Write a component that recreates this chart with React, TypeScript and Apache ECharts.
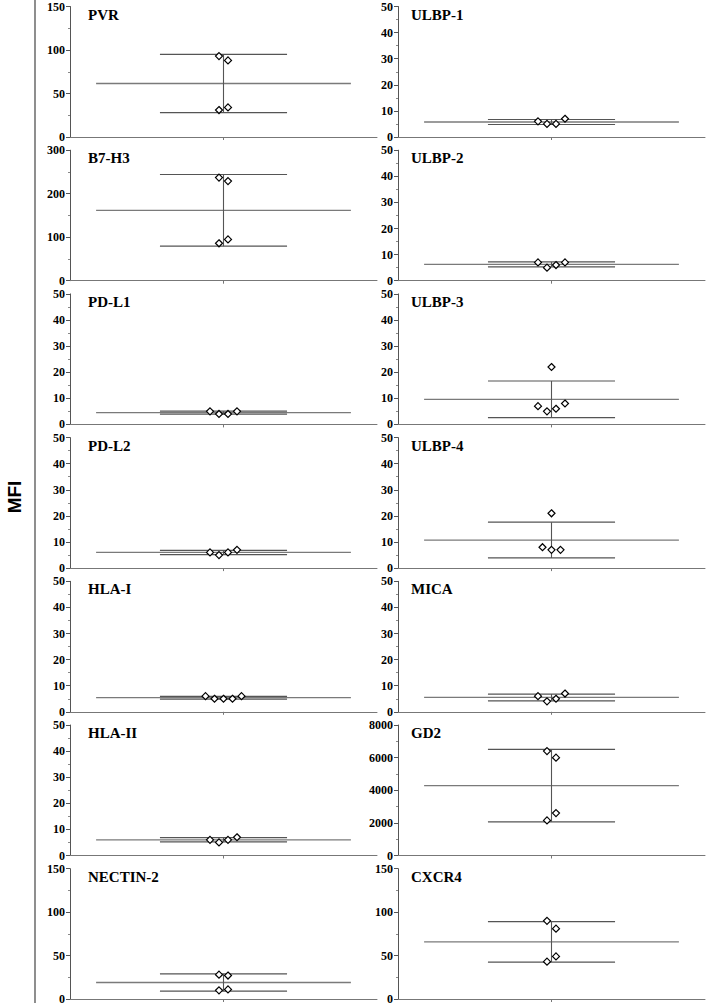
import React, { useEffect, useRef } from "react";
import * as echarts from "echarts";

// Panel names (left column top-to-bottom, then right column)
const leftNames = ["PVR", "B7-H3", "PD-L1", "PD-L2", "HLA-I", "HLA-II", "NECTIN-2"];
const rightNames = ["ULBP-1", "ULBP-2", "ULBP-3", "ULBP-4", "MICA", "GD2", "CXCR4"];

// MFI values per marker
const pvr = [93, 88, 31, 34];
const b7h3 = [237, 229, 86, 95];
const pdl1 = [5, 4, 4, 5];
const pdl2 = [6, 5, 6, 7];
const hla1 = [6, 5, 5, 5, 6];
const hla2 = [6, 5, 6, 7];
const nectin2 = [28, 27, 10, 11];
const ulbp1 = [6, 5, 5, 7];
const ulbp2 = [7, 5, 6, 7];
const ulbp3 = [22, 7, 5, 6, 8];
const ulbp4 = [21, 8, 7, 7];
const mica = [6, 4, 5, 7];
const gd2 = [6400, 6000, 2150, 2600];
const cxcr4 = [90, 81, 43, 49];

// y axis tick ranges
const axisMax = [150, 300, 50, 50, 50, 50, 150, 50, 50, 50, 50, 50, 8000, 150];
const axisStep = [50, 100, 10, 10, 10, 10, 50, 10, 10, 10, 10, 10, 2000, 50];

const panelNames = [...leftNames, ...rightNames];
const panelValues = [pvr, b7h3, pdl1, pdl2, hla1, hla2, nectin2, ulbp1, ulbp2, ulbp3, ulbp4, mica, gd2, cxcr4];

const GRID_W = 307;
const GRID_H = 130.5;
const ROW_STEP = 143.7;
const TOP0 = 6.5;

function stats(v: number[]) {
  const n = v.length;
  const m = v.reduce((a, b) => a + b, 0) / n;
  const s = Math.sqrt(v.reduce((a, b) => a + (b - m) * (b - m), 0) / (n - 1));
  return { m, s };
}

// Prism-like scatter layout: points close in value share a row, centred
function layoutPoints(vals: number[], max: number) {
  const pxPerUnitY = GRID_H / max;
  const pxPerUnitX = GRID_W / 2;
  const order = vals.map((_, i) => i).sort((a, b) => vals[a] - vals[b]);
  const rows: number[][] = [];
  for (const idx of order) {
    const cur = rows[rows.length - 1];
    if (cur && (vals[idx] - vals[cur[0]]) * pxPerUnitY < 8.5) cur.push(idx);
    else rows.push([idx]);
  }
  const out: [number, number][] = [];
  for (const row of rows) {
    row.sort((a, b) => a - b);
    row.forEach((idx, k) => {
      const off = (k - (row.length - 1) / 2) * 9;
      out.push([off / pxPerUnitX, vals[idx]]);
    });
  }
  return out;
}

export default function App() {
  const ref = useRef<HTMLDivElement>(null);
  useEffect(() => {
    if (!ref.current) return;
    const chart = echarts.init(ref.current, undefined, { renderer: "svg" });
    const grids: any[] = [];
    const xAxes: any[] = [];
    const yAxes: any[] = [];
    const series: any[] = [];
    const graphics: any[] = [];

    panelNames.forEach((name, p) => {
      const col = p < 7 ? 0 : 1;
      const row = p % 7;
      const left = col ? 398 : 70;
      const top = TOP0 + ROW_STEP * row;
      grids.push({ left, top, width: GRID_W, height: GRID_H, containLabel: false });
      xAxes.push({
        gridIndex: p,
        type: "value",
        min: -1,
        max: 1,
        axisLine: { show: true, onZero: false, lineStyle: { color: "#777", width: 1 } },
        axisTick: { show: true, customValues: [0], length: 3, lineStyle: { color: "#777" } },
        axisLabel: { show: false },
        splitLine: { show: false },
      });
      yAxes.push({
        gridIndex: p,
        type: "value",
        min: 0,
        max: axisMax[p],
        interval: axisStep[p],
        axisLine: { show: true, onZero: false, lineStyle: { color: "#555", width: 1 } },
        axisTick: { show: true, length: 4, lineStyle: { color: "#555" } },
        minorTick: { show: true, splitNumber: 2, length: 2, lineStyle: { color: "#888" } },
        axisLabel: {
          fontFamily: "Liberation Serif",
          fontWeight: "bold",
          fontSize: 12,
          color: "#000",
          margin: 5,
          formatter: (v: number) => String(v),
        },
        splitLine: { show: false },
      });
      const vals = panelValues[p];
      const { m, s } = stats(vals);
      const lineBase = {
        type: "line",
        xAxisIndex: p,
        yAxisIndex: p,
        symbol: "none",
        silent: true,
        z: 2,
      };
      series.push({
        ...lineBase,
        data: [[-0.83, m], [0.83, m]],
        lineStyle: { color: "#7a7a7a", width: 1.3 },
      });
      series.push({
        ...lineBase,
        data: [[-0.414, m + s], [0.414, m + s]],
        lineStyle: { color: "#555", width: 1.2 },
      });
      series.push({
        ...lineBase,
        data: [[-0.414, m - s], [0.414, m - s]],
        lineStyle: { color: "#555", width: 1.2 },
      });
      series.push({
        ...lineBase,
        data: [[0, m - s], [0, m + s]],
        lineStyle: { color: "#555", width: 1.1 },
      });
      series.push({
        type: "scatter",
        xAxisIndex: p,
        yAxisIndex: p,
        data: layoutPoints(vals, axisMax[p]),
        symbol: "diamond",
        symbolSize: 7,
        itemStyle: { color: "#fff", borderColor: "#000", borderWidth: 1.2, opacity: 1 },
        z: 5,
      });
      graphics.push({
        type: "text",
        x: left + (col ? 13 : 18),
        y: top + 8,
        style: {
          text: name,
          font: 'bold 15px "Liberation Serif"',
          fill: "#000",
          verticalAlign: "middle",
        },
      });
    });

    graphics.push({
      type: "line",
      shape: { x1: 35, y1: 0, x2: 35, y2: 1003 },
      style: { stroke: "#444", lineWidth: 1.2 },
    });
    graphics.push({
      type: "text",
      x: 14,
      y: 497,
      rotation: Math.PI / 2,
      style: {
        text: "MFI",
        font: 'bold 19px "Liberation Sans"',
        fill: "#000",
        align: "center",
        verticalAlign: "middle",
      },
    });

    chart.setOption({
      animation: false,
      backgroundColor: "#fff",
      grid: grids,
      xAxis: xAxes,
      yAxis: yAxes,
      series,
      graphic: graphics,
    });
    return () => chart.dispose();
  }, []);
  return (
    <div
      ref={ref}
      style={{ position: "absolute", left: 0, top: 0, width: 709, height: 1005 }}
    />
  );
}
